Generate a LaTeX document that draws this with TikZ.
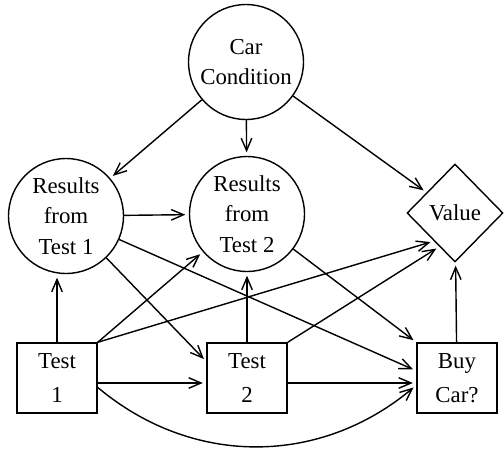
\documentclass[tikz,border=0pt]{standalone}
\usepackage{fontspec}
\setmainfont{Liberation Serif}
\usetikzlibrary{shapes.geometric,arrows.meta}
\begin{document}
\begin{tikzpicture}[x=0.02cm,y=-0.02cm,line width=0.8pt,
 >={Straight Barb[length=7pt,width=6pt]},
 chance/.style={circle,draw,minimum size=2.3cm,inner sep=0pt,align=center,font=\fontsize{13}{17.5}\selectfont},
 decision/.style={rectangle,draw,minimum width=1.6cm,minimum height=1.4cm,inner sep=0pt,align=center,font=\fontsize{13}{19}\selectfont},
 utility/.style={diamond,draw,minimum width=1.92cm,minimum height=1.96cm,inner sep=0pt,font=\fontsize{13}{17.5}\selectfont},
 link/.style={->,shorten >=2pt}]
\useasboundingbox(0,0)rectangle(504,457);
\node[chance](cc) at(246,62){Car\\Condition};
\node[chance](r1) at(66,216){Results\\from\\Test 1};
\node[chance](r2) at(247,214){Results\\from\\Test 2};
\node[utility](val) at(455,213){Value};
\node[decision](t1) at(57,378){Test\\1};
\node[decision](t2) at(247,378){Test\\2};
\node[decision](buy) at(457,378){Buy\\Car?};
\draw[link](cc)--(r1);
\draw[link](cc)--(r2);
\draw[link](cc)--(val);
\draw[link](r1)--(r2);
\draw[link](t1.north)--(t1.north|-r1.south);
\draw[link](t2)--(r2);
\draw[link](buy)--(val);
\draw[link](r1)--(t2.158);
\draw[link](r1)--(buy.170);
\draw[link](r2)--(buy.north west);
\draw[link](t1.north east)--(r2);
\draw[link](t1.north east)--(val.233);
\draw[link](t2.north east)--(val.245);
\draw[link](t1.-7)--(t2.187);
\draw[link](t2.-7)--(buy.187);
\draw[link](t1.-13)to[out=-40,in=-140](buy.190);
\end{tikzpicture}
\end{document}
